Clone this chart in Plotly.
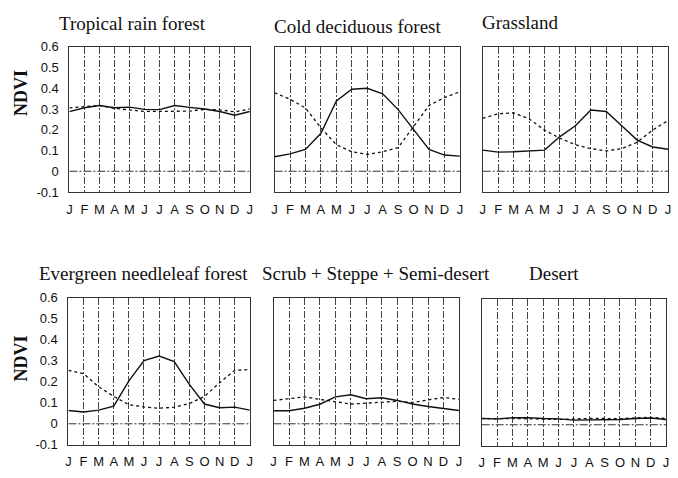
import plotly.graph_objects as go

# Month ticks (January through the following January)
months = ["J", "F", "M", "A", "M", "J", "J", "A", "S", "O", "N", "D", "J"]
y_ticks = [-0.1, 0, 0.1, 0.2, 0.3, 0.4, 0.5, 0.6]
y_ticklabels = ["-0.1", "0", "0.1", "0.2", "0.3", "0.4", "0.5", "0.6"]

titles = [
    "Tropical rain forest", "Cold deciduous forest", "Grassland",
    "Evergreen needleleaf forest", "Scrub + Steppe + Semi-desert", "Desert",
]

# NDVI monthly means: solid series and dotted series for each biome
tropical_solid = [0.287, 0.306, 0.317, 0.306, 0.309, 0.298, 0.297, 0.317, 0.308, 0.300, 0.288, 0.270, 0.288]
tropical_dotted = [0.305, 0.312, 0.317, 0.303, 0.295, 0.288, 0.288, 0.290, 0.290, 0.298, 0.296, 0.286, 0.300]

cold_solid = [0.070, 0.084, 0.105, 0.183, 0.339, 0.395, 0.400, 0.373, 0.297, 0.203, 0.105, 0.078, 0.073]
cold_dotted = [0.378, 0.347, 0.305, 0.209, 0.128, 0.094, 0.081, 0.094, 0.114, 0.216, 0.317, 0.355, 0.383]

grass_solid = [0.102, 0.092, 0.094, 0.097, 0.102, 0.167, 0.219, 0.295, 0.288, 0.219, 0.150, 0.117, 0.106]
grass_dotted = [0.255, 0.277, 0.281, 0.253, 0.198, 0.159, 0.128, 0.109, 0.098, 0.109, 0.140, 0.198, 0.245]

needle_solid = [0.063, 0.056, 0.065, 0.084, 0.204, 0.300, 0.322, 0.296, 0.187, 0.094, 0.076, 0.079, 0.065]
needle_dotted = [0.254, 0.238, 0.176, 0.130, 0.091, 0.080, 0.074, 0.079, 0.096, 0.130, 0.195, 0.254, 0.258]

scrub_solid = [0.062, 0.062, 0.074, 0.093, 0.128, 0.138, 0.119, 0.124, 0.111, 0.094, 0.082, 0.074, 0.063]
scrub_dotted = [0.111, 0.119, 0.128, 0.116, 0.104, 0.094, 0.098, 0.104, 0.107, 0.101, 0.113, 0.125, 0.116]

desert_solid = [0.030, 0.028, 0.033, 0.034, 0.030, 0.028, 0.022, 0.022, 0.024, 0.025, 0.030, 0.032, 0.025]
desert_dotted = [0.030, 0.028, 0.030, 0.030, 0.027, 0.025, 0.028, 0.030, 0.030, 0.028, 0.033, 0.035, 0.030]

series = [
    (tropical_solid, tropical_dotted),
    (cold_solid, cold_dotted),
    (grass_solid, grass_dotted),
    (needle_solid, needle_dotted),
    (scrub_solid, scrub_dotted),
    (desert_solid, desert_dotted),
]

W, H = 678, 478
# Panel boxes in pixels: (left, right, top, bottom)
boxes = [
    (67, 249, 41, 191), (274, 461, 41, 191), (484, 671, 41, 191),
    (66, 249, 300, 452), (273, 460, 300, 452), (483, 669, 301, 453),
]
title_pos = [(54, 17), (271, 20), (481, 16), (34, 275), (259, 275), (529, 275)]

sans = "Liberation Sans, Arial, sans-serif"
serif = "Liberation Serif, Times New Roman, serif"

fig = go.Figure()
x = list(range(13))

for i, ((solid, dotted), (l, r, t, b)) in enumerate(zip(series, boxes)):
    n = "" if i == 0 else str(i + 1)
    xa, ya = "x" + n, "y" + n
    fig.add_trace(go.Scatter(x=x, y=[0] * 13, mode="lines", xaxis=xa, yaxis=ya,
                             line=dict(color="#333", width=1, dash="8px,2px,2px,2px"),
                             hoverinfo="skip", showlegend=False))
    fig.add_trace(go.Scatter(x=x, y=dotted, mode="lines", xaxis=xa, yaxis=ya,
                             line=dict(color="#111", width=1.3, dash="dot"),
                             showlegend=False))
    fig.add_trace(go.Scatter(x=x, y=solid, mode="lines", xaxis=xa, yaxis=ya,
                             line=dict(color="#111", width=1.4),
                             showlegend=False))
    fig.layout["xaxis" + n] = dict(
        domain=[l / W, r / W], anchor=ya, range=[0, 12],
        tickvals=x, ticktext=months, ticks="", ticklabelstandoff=5,
        tickfont=dict(family=sans, size=13, color="#111"),
        showgrid=True, gridcolor="#444", gridwidth=1, griddash="7px,2px,2px,2px",
        showline=True, mirror=True, linecolor="#333", linewidth=1,
        zeroline=False, fixedrange=True,
    )
    fig.layout["yaxis" + n] = dict(
        domain=[1 - b / H, 1 - t / H], anchor=xa, range=[-0.1, 0.6],
        tickvals=y_ticks, ticktext=y_ticklabels, ticks="",
        showticklabels=(i % 3 == 0), ticklabelstandoff=7,
        tickfont=dict(family=sans, size=13, color="#111"),
        showgrid=False, zeroline=False,
        showline=True, mirror=True, linecolor="#333", linewidth=1,
        fixedrange=True,
    )
    tx, ty = title_pos[i]
    fig.add_annotation(text=titles[i], x=tx / W, y=1 - ty / H, xref="paper", yref="paper",
                       xanchor="left", yanchor="middle", showarrow=False,
                       font=dict(family=serif, size=19, color="#111"))

for yc in (89, 363):
    fig.add_annotation(text="<b>NDVI</b>", x=18 / W, y=1 - yc / H, xref="paper", yref="paper",
                       xanchor="center", yanchor="middle", textangle=-90, showarrow=False,
                       font=dict(family=serif, size=18, color="#111"))

fig.update_layout(
    width=W, height=H, margin=dict(l=0, r=0, t=0, b=0),
    paper_bgcolor="white", plot_bgcolor="white",
)

fig.write_html("out.html")
